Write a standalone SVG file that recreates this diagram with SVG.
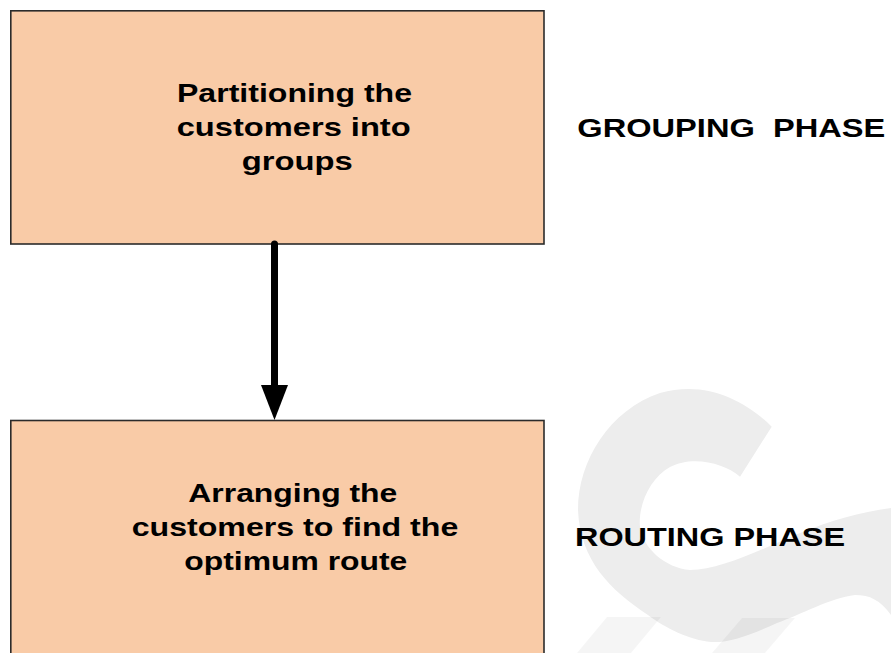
<svg xmlns="http://www.w3.org/2000/svg" width="891" height="653" viewBox="0 0 891 653">
<style>
.box{fill:#f9cba7;stroke:#2b2b2b;stroke-width:1.6}
.t{font-family:"Liberation Sans",Arial,sans-serif;font-weight:bold;font-size:26.5px;fill:#000}
.p{font-family:"Liberation Sans",Arial,sans-serif;font-weight:bold;font-size:26px;fill:#000}
</style>
<rect width="891" height="653" fill="#ffffff"/>
<g id="watermark">
<path fill="#ededed" d="M771.7,426.7 L740,476.7 C725,463 692,455 670,467 C650,478 638,505 640,527 C643,548 665,568 690,570 C720,570 760,550 800,533 C830,521 860,512 891,508 L891,615 C880,600 870,595 855,595 C830,598 800,615 777,623 C750,635 730,643 711,642 C690,640 665,628 648,615 C610,590 580,560 578,510 C578,460 610,410 660,393 C705,380 745,400 771.7,426.7 Z"/>
<g fill="#000" fill-opacity="0.04">
<polygon points="607,617 661,617 631,653 577,653"/>
<polygon points="742,618 795,618 765,653 712,653"/>
</g>
</g>
<g id="node-grouping">
<rect class="box" x="10.8" y="10.8" width="533.2" height="233.2"/>
<text class="t" x="177" y="101.5" textLength="235" lengthAdjust="spacingAndGlyphs">Partitioning the</text>
<text class="t" x="176.7" y="135.5" textLength="234" lengthAdjust="spacingAndGlyphs">customers into</text>
<text class="t" x="241.7" y="169.5" textLength="111" lengthAdjust="spacingAndGlyphs">groups</text>
</g>
<g id="node-routing">
<rect class="box" x="10.8" y="420.5" width="533.2" height="240"/>
<text class="t" x="188.3" y="502.3" textLength="209" lengthAdjust="spacingAndGlyphs">Arranging the</text>
<text class="t" x="131.7" y="535.7" textLength="326.6" lengthAdjust="spacingAndGlyphs">customers to find the</text>
<text class="t" x="184.3" y="569.5" textLength="223" lengthAdjust="spacingAndGlyphs">optimum route</text>
</g>
<g id="label-grouping-phase">
<text class="p" x="577.3" y="136.7" textLength="308" lengthAdjust="spacingAndGlyphs" xml:space="preserve">GROUPING  PHASE</text>
</g>
<g id="label-routing-phase">
<text class="p" x="575" y="546" textLength="270" lengthAdjust="spacingAndGlyphs">ROUTING PHASE</text>
</g>
<g id="connectors">
<line x1="274.5" y1="244" x2="274.5" y2="388" stroke="#000" stroke-width="7" stroke-linecap="round"/>
<polygon points="261,385 288,385 274.5,420" fill="#000"/>
</g>
</svg>
